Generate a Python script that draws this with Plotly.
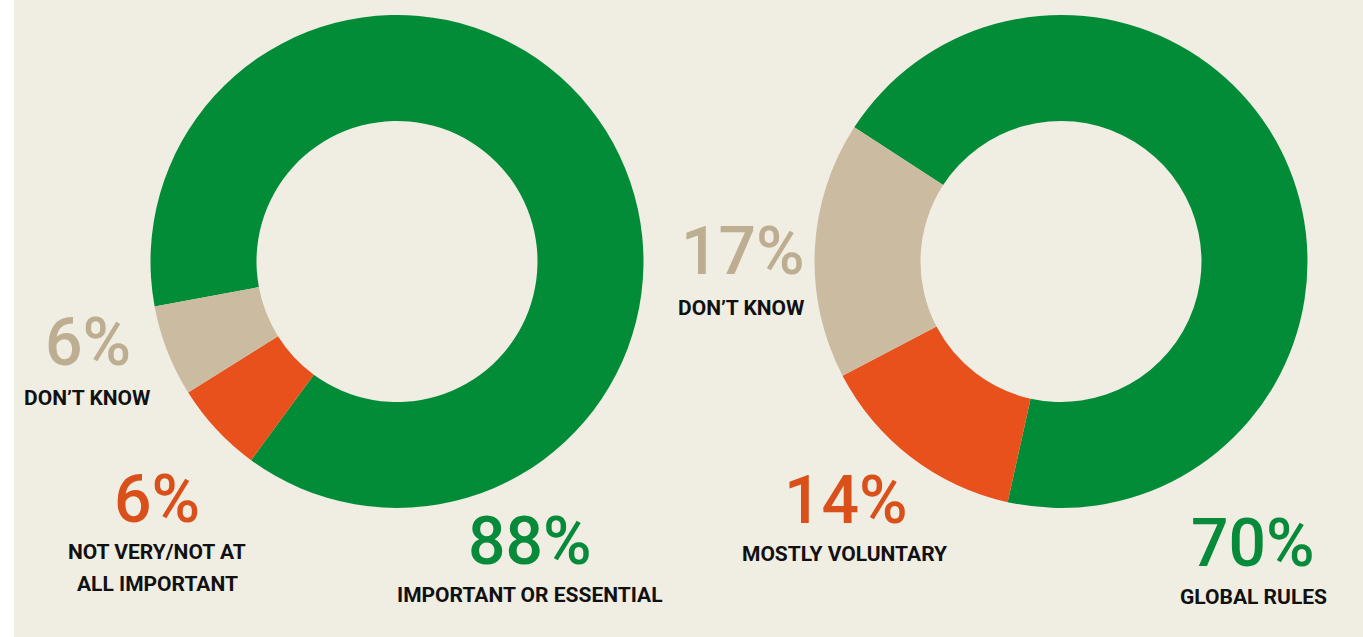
import plotly.graph_objects as go

W, H = 1363, 637

# Data
left_labels = ["IMPORTANT OR ESSENTIAL", "NOT VERY/NOT AT ALL IMPORTANT", "DON'T KNOW"]
left_values = [88, 6, 6]
right_labels = ["GLOBAL RULES", "MOSTLY VOLUNTARY", "DON'T KNOW"]
right_values = [70, 14, 17]

slice_colors = ["#028C38", "#E8501C", "#CBBBA0"]
text_colors = ["#078A3A", "#D9501A", "#BDAE92"]
BG = "#F0EDE3"

fig = go.Figure()

def px_dom(x0, x1, y0, y1):
    return dict(x=[x0 / W, x1 / W], y=[1 - y1 / H, 1 - y0 / H])

fig.add_trace(go.Pie(
    labels=left_labels, values=left_values, sort=False, direction="clockwise",
    rotation=259.5, hole=0.57, textinfo="none", hoverinfo="label+value",
    marker=dict(colors=slice_colors, line=dict(width=0)),
    domain=px_dom(150.5, 643.5, 15, 508), showlegend=False,
))
fig.add_trace(go.Pie(
    labels=right_labels, values=right_values, sort=False, direction="clockwise",
    rotation=303, hole=0.57, textinfo="none", hoverinfo="label+value",
    marker=dict(colors=slice_colors, line=dict(width=0)),
    domain=px_dom(814, 1308, 15, 508), showlegend=False,
))

FONT = "Roboto, DejaVu Sans Condensed, sans-serif"
NUM_SIZE = 66
LBL_SIZE = 21

def ann(text, x, y, size, color, weight):
    fig.add_annotation(text=text, x=x / W, y=1 - y / H, xref="paper", yref="paper",
                       xanchor="center", yanchor="middle", showarrow=False,
                       font=dict(family=FONT, size=size, color=color, weight=weight))

def num(v, x, y, color):
    ann(f"{v}%", x, y, NUM_SIZE, color, 500)

def lbl(t, x, y):
    ann(t, x, y, LBL_SIZE, "#111111", 700)

# Left donut labels
num(left_values[2], 88, 342, text_colors[2])
lbl(left_labels[2].replace("'", "’"), 87, 398)
num(left_values[1], 157, 499, text_colors[1])
lbl("NOT VERY/NOT AT", 157, 552)
lbl("ALL IMPORTANT", 157, 584)
num(left_values[0], 530, 541, text_colors[0])
lbl(left_labels[0], 530, 595)

# Right donut labels
num(right_values[2], 743, 252, text_colors[2])
lbl(right_labels[2].replace("'", "’"), 741, 308)
num(right_values[1], 846, 500, text_colors[1])
lbl(right_labels[1], 845, 554)
num(right_values[0], 1253, 543, text_colors[0])
lbl(right_labels[0], 1253, 597)

fig.update_layout(
    width=W, height=H, autosize=False,
    margin=dict(l=0, r=0, t=0, b=0),
    paper_bgcolor="white", plot_bgcolor=BG,
    shapes=[dict(type="rect", xref="paper", yref="paper", x0=14 / W, x1=1, y0=0, y1=1,
                 fillcolor=BG, line=dict(width=0), layer="below")],
)

fig.write_html("out.html", config={"displayModeBar": False},
               post_script="document.body.style.margin='0';document.body.style.overflow='hidden';")
